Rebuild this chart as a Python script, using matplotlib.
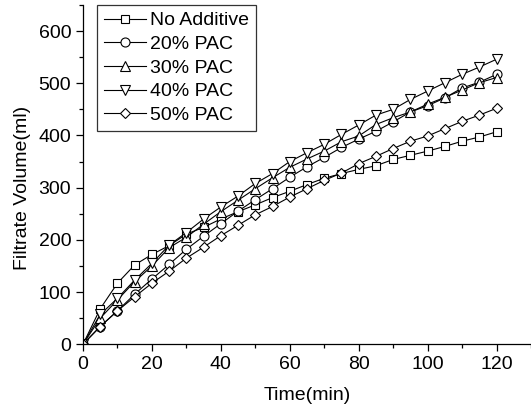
import matplotlib
matplotlib.use('Agg')
import matplotlib.pyplot as plt
from matplotlib.ticker import MultipleLocator

plt.rcParams['font.family'] = ['Liberation Sans', 'DejaVu Sans']

time = list(range(0, 125, 5))

no_additive = [0, 68, 117, 152, 172, 189, 211, 224, 240, 254, 267, 281, 293,
               306, 318, 327, 335, 342, 354, 362, 370, 379, 389, 397, 407]
pac20 = [0, 34, 64, 96, 125, 153, 182, 207, 231, 255, 277, 298, 320,
         340, 358, 377, 393, 408, 426, 445, 457, 472, 491, 502, 517]
pac30 = [0, 50, 85, 120, 150, 185, 205, 230, 254, 276, 298, 319, 339,
         355, 370, 388, 399, 421, 434, 445, 460, 473, 487, 501, 511]
pac40 = [0, 57, 88, 123, 155, 190, 214, 240, 263, 284, 308, 327, 350,
         367, 383, 402, 420, 439, 450, 469, 485, 501, 517, 531, 546]
pac50 = [0, 34, 64, 91, 117, 140, 165, 186, 208, 228, 248, 264, 282,
         298, 314, 328, 346, 360, 375, 389, 399, 413, 427, 439, 452]

series = [
    ('No Additive', no_additive, 's', 5.5),
    ('20% PAC', pac20, 'o', 6.5),
    ('30% PAC', pac30, '^', 7),
    ('40% PAC', pac40, 'v', 7),
    ('50% PAC', pac50, 'D', 5.5),
]

fig = plt.figure(figsize=(5.31, 4.05), dpi=100)
ax = fig.add_axes([0.1563, 0.15, 0.8437, 0.8377])

for label, vals, mk, ms in series:
    ax.plot(time, vals, color='black', lw=0.8, marker=mk, ms=ms,
            mfc='white', mec='black', mew=0.8, label=label)

ax.set_xlim(0, 130)
ax.set_ylim(0, 650)
ax.xaxis.set_minor_locator(MultipleLocator(10))
ax.yaxis.set_minor_locator(MultipleLocator(50))
ax.set_xticks(range(0, 121, 20))
ax.set_yticks(range(0, 601, 100))
ax.tick_params(which='major', direction='out', length=5, width=0.9, labelsize=14)
ax.tick_params(which='minor', direction='out', length=3, width=0.9)

ax.spines['top'].set_visible(False)
ax.spines['right'].set_visible(False)
ax.spines['left'].set_linewidth(0.9)
ax.spines['bottom'].set_linewidth(0.9)

ax.set_xlabel('Time(min)', fontsize=14)
ax.set_ylabel('Filtrate Volume(ml)', fontsize=14)
ax.xaxis.set_label_coords(0.5, -0.126)
ax.yaxis.set_label_coords(-0.116, 0.46)

leg = ax.legend(loc='upper left', bbox_to_anchor=(0.031, 1.0), fontsize=14,
                frameon=True, fancybox=False, edgecolor='black',
                labelspacing=0.31, handlelength=2.2, handletextpad=0.2,
                borderpad=0.35, borderaxespad=0.0)
leg.get_frame().set_linewidth(0.9)

plt.savefig('out.png', dpi=100)
